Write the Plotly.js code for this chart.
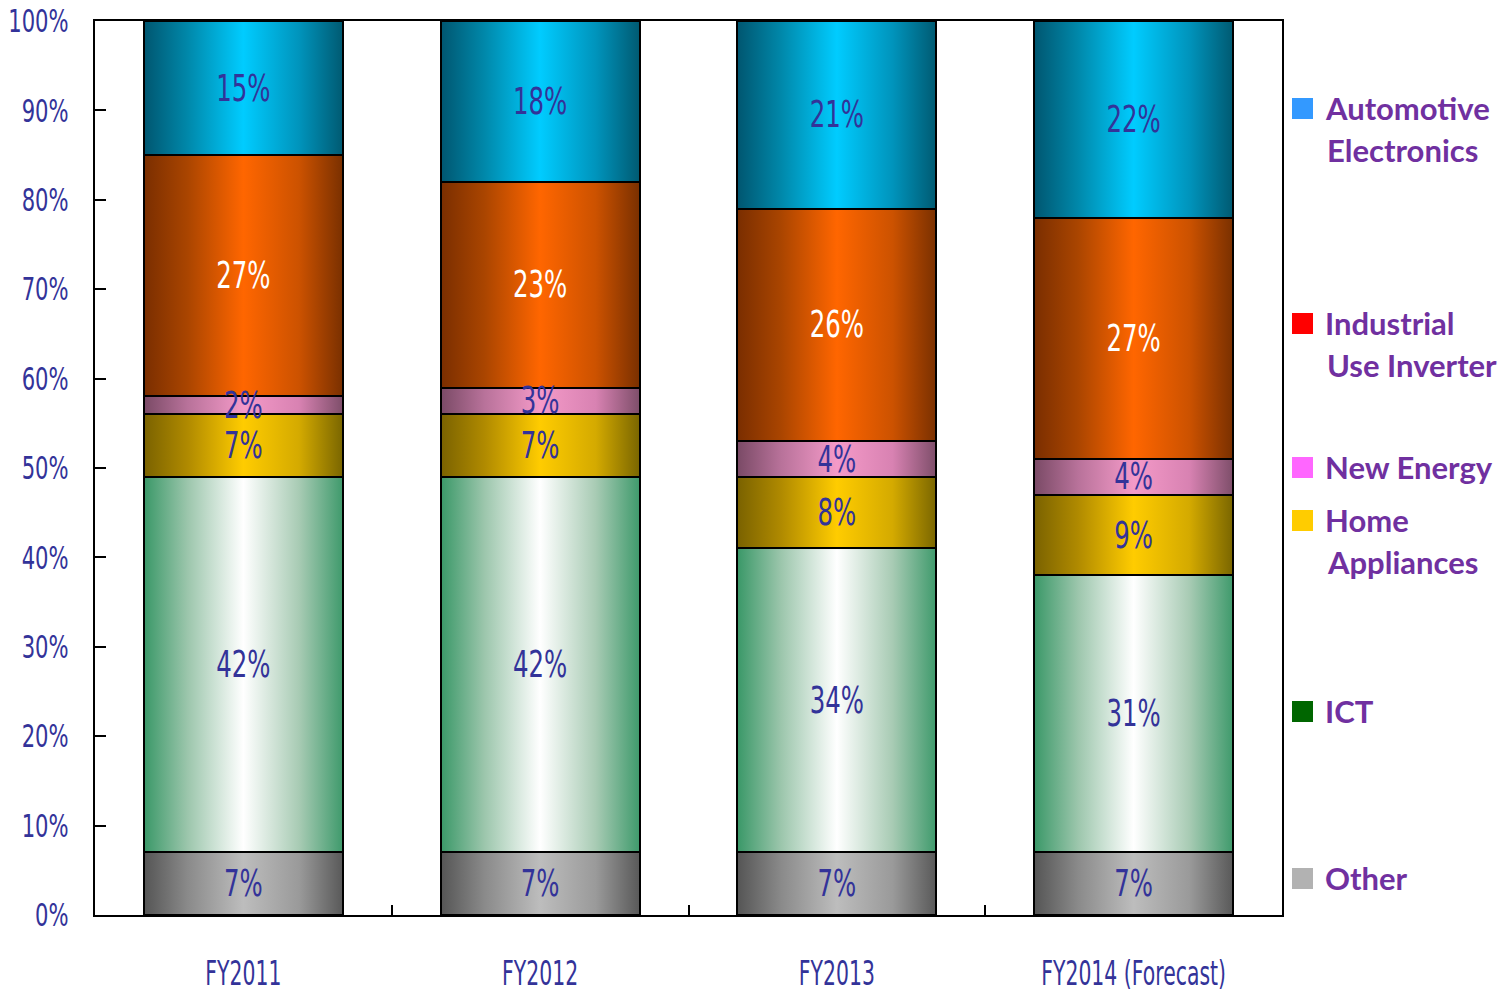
<!DOCTYPE html>
<html>
<head>
<meta charset="utf-8">
<script src="https://cdn.plot.ly/plotly-3.0.1.min.js"></script>
<style>
  html, body { margin: 0; padding: 0; background: #ffffff; }
  #chart { width: 1508px; height: 995px; }
</style>
</head>
<body>
<div id="chart"></div>
<script>
// ---- Data (shares, %) ----
const categories = ['FY2011', 'FY2012', 'FY2013', 'FY2014 (Forecast)'];
const other      = [7, 7, 7, 7];
const ict        = [42, 42, 34, 31];
const home       = [7, 7, 8, 9];
const newEnergy  = [2, 3, 4, 4];
const industrial = [27, 23, 26, 27];
const automotive = [15, 18, 21, 22];

const yTickVals = [0, 10, 20, 30, 40, 50, 60, 70, 80, 90, 100];

const legendLines = {
  automotive: ['Automotive', 'Electronics'],
  industrial: ['Industrial', 'Use Inverter'],
  newEnergy:  ['New Energy'],
  home:       ['Home', 'Appliances'],
  ict:        ['ICT'],
  other:      ['Other']
};
const legendSwatch = {
  automotive: '#3399FF', industrial: '#FF0000', newEnergy: '#FF66FF',
  home: '#FFCC00', ict: '#006600', other: '#B2B2B2'
};

const gradients = {
  other:      ['#555555', '#8a8a8a', '#bdbdbd', '#9a9a9a', '#595959'],
  ict:        ['#3a9868', '#9cc6ac', '#ffffff', '#a8cbb4', '#3f9a6c'],
  home:       ['#7a6200', '#b08a00', '#ffcc00', '#d4aa00', '#7a6600'],
  newEnergy:  ['#7a4a66', '#b8729a', '#f49ac8', '#d882b2', '#7e4e6a'],
  industrial: ['#7a2e00', '#aa4500', '#ff6600', '#cc5200', '#7a3000'],
  automotive: ['#005670', '#0088aa', '#00ccff', '#0094bc', '#005a72']
};

const order = ['other', 'ict', 'home', 'newEnergy', 'industrial', 'automotive'];
const values = { other, ict, home, newEnergy, industrial, automotive };
const textColors = {
  other: '#333399', ict: '#333399', home: '#333399', newEnergy: '#333399',
  industrial: '#ffffff', automotive: '#333399'
};

const baseFont = '"DejaVu Sans", sans-serif';

const traces = order.map(key => ({
  type: 'bar',
  name: key,
  x: categories,
  y: values[key],
  marker: { color: legendSwatch[key], line: { color: '#000000', width: 2 } },
  texttemplate: '%{y}%',
  textposition: 'inside',
  insidetextanchor: 'middle',
  textangle: 0,
  constraintext: 'none',
  textfont: { family: baseFont, size: 37, color: textColors[key] },
  hoverinfo: 'skip',
  showlegend: false
}));

const L = 95, R = 1282, T = 21, B = 915;
const W = 1508, H = 995;
const px2x = px => (px - L) / (R - L);
const px2y = py => (B - py) / (B - T);

const legendPos = {
  automotive: [108, 150],
  industrial: [323, 365],
  newEnergy:  [467],
  home:       [520, 562],
  ict:        [711],
  other:      [878]
};

const annotations = [];
const shapes = [];
Object.keys(legendPos).forEach(key => {
  const ys = legendPos[key];
  legendLines[key].forEach((txt, i) => {
    annotations.push({
      xref: 'paper', yref: 'paper',
      x: px2x(i === 0 ? 1323 : 1325), y: px2y(ys[i]),
      xanchor: 'left', yanchor: 'middle',
      text: '<b>' + txt + '</b>',
      showarrow: false,
      font: { family: 'Lato, "Open Sans", sans-serif', size: 31, color: '#7030A0', weight: 900 }
    });
  });
  shapes.push({
    type: 'rect', xref: 'paper', yref: 'paper',
    x0: px2x(1292), x1: px2x(1313),
    y0: px2y(ys[0] + 11), y1: px2y(ys[0] - 10),
    fillcolor: legendSwatch[key], line: { width: 0 }
  });
});

const layout = {
  width: W, height: H,
  margin: { l: L, r: W - R, t: T, b: H - B, pad: 0 },
  barmode: 'stack',
  bargap: 0.33,
  paper_bgcolor: '#ffffff',
  plot_bgcolor: '#ffffff',
  showlegend: false,
  xaxis: {
    type: 'category',
    range: [-0.5, 3.5],
    showline: true, mirror: true, linecolor: '#000000', linewidth: 2,
    ticks: 'inside', tickson: 'boundaries', ticklen: 10, tickwidth: 2, tickcolor: '#000000',
    showgrid: false, zeroline: false,
    tickangle: 0,
    ticklabelstandoff: 27,
    tickfont: { family: baseFont, size: 34, color: '#333399' }
  },
  yaxis: {
    range: [0, 100],
    tickvals: yTickVals,
    ticktext: yTickVals.map(v => v + '%'),
    showline: true, mirror: true, linecolor: '#000000', linewidth: 2,
    ticks: 'inside', ticklen: 11, tickwidth: 2, tickcolor: '#000000',
    showgrid: false, zeroline: false,
    ticklabelstandoff: 18,
    tickfont: { family: baseFont, size: 32, color: '#333399' }
  },
  annotations: annotations,
  shapes: shapes
};

// horizontally condense a text element (no condensed font is installed)
function condense(t, factor) {
  const len = t.getComputedTextLength();
  if (len > 0) {
    t.setAttribute('textLength', (len * factor).toFixed(2));
    t.setAttribute('lengthAdjust', 'spacingAndGlyphs');
  }
}

Plotly.newPlot('chart', traces, layout, { staticPlot: true, displayModeBar: false }).then(gd => {
  const svgNS = 'http://www.w3.org/2000/svg';
  const mainSvg = gd.querySelector('.main-svg');
  let defs = mainSvg.querySelector('defs');
  if (!defs) { defs = document.createElementNS(svgNS, 'defs'); mainSvg.insertBefore(defs, mainSvg.firstChild); }
  const offsets = [0, 0.22, 0.5, 0.78, 1];
  order.forEach(key => {
    const lg = document.createElementNS(svgNS, 'linearGradient');
    lg.setAttribute('id', 'grad-' + key);
    lg.setAttribute('x1', '0'); lg.setAttribute('y1', '0');
    lg.setAttribute('x2', '1'); lg.setAttribute('y2', '0');
    gradients[key].forEach((c, i) => {
      const st = document.createElementNS(svgNS, 'stop');
      st.setAttribute('offset', offsets[i]);
      st.setAttribute('stop-color', c);
      lg.appendChild(st);
    });
    defs.appendChild(lg);
  });
  gd.querySelectorAll('.barlayer .trace').forEach((g, idx) => {
    const key = order[idx];
    g.querySelectorAll('path').forEach(p => { p.style.fill = 'url(#grad-' + key + ')'; });
  });
  const barlayer = gd.querySelector('.barlayer');
  const textGroup = document.createElementNS(svgNS, 'g');
  gd.querySelectorAll('.barlayer text.bartext').forEach(t => textGroup.appendChild(t));
  barlayer.appendChild(textGroup);

  gd.querySelectorAll('text.bartext').forEach(t => condense(t, 0.66));
  gd.querySelectorAll('.ytick text').forEach(t => condense(t, 0.66));
  gd.querySelectorAll('.xtick text').forEach(t => condense(t, 0.6));
});
</script>
</body>
</html>
